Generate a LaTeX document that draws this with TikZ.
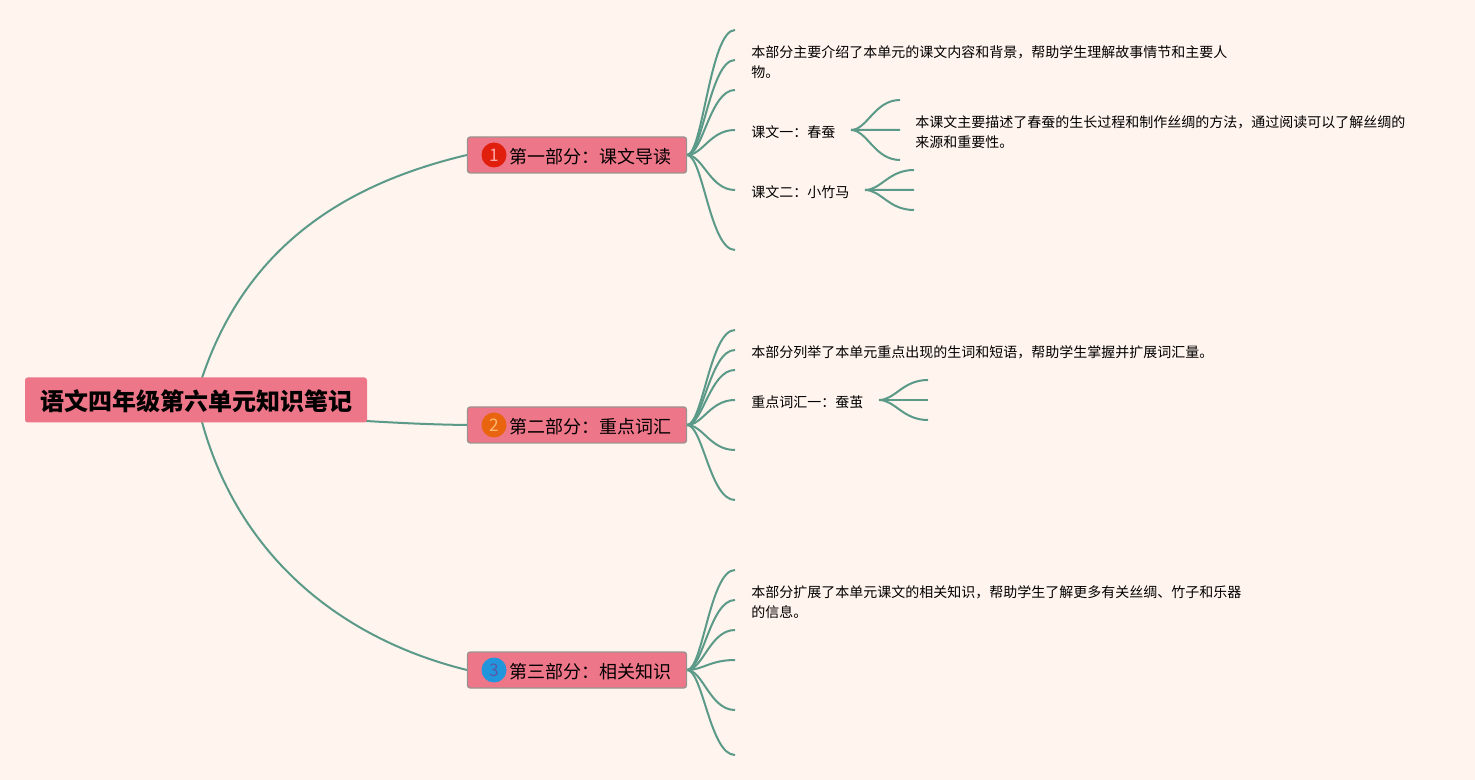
\documentclass[tikz,border=0pt]{standalone}
\usepackage{fontspec}
\setmainfont{Noto Sans CJK SC}
\definecolor{bgc}{HTML}{FFF4EE}
\definecolor{boxc}{HTML}{EE7689}
\definecolor{linec}{HTML}{5B9A88}
\definecolor{edgec}{HTML}{9A9490}
\definecolor{redc}{HTML}{E0200C}
\definecolor{orac}{HTML}{E8640E}
\definecolor{bluc}{HTML}{2196DC}
\tikzset{
 rootbox/.style={fill=boxc,rounded corners=2pt,minimum width=342\pxu,minimum height=45\pxu,inner sep=0pt,font=\fontsize{18}{22}\selectfont\bfseries},
 secbox/.style={fill=boxc,draw=edgec,line width=1pt,rounded corners=2pt,minimum width=219\pxu,minimum height=36\pxu,inner sep=0pt},
 sectext/.style={font=\fontsize{13.5}{16}\selectfont,inner sep=0pt,anchor=west},
 badge/.style={circle,minimum size=25\pxu,inner sep=0pt,font=\fontsize{13}{15}\selectfont},
 body/.style={font=\fontsize{10.5}{15}\selectfont,inner sep=0pt,anchor=north west,align=left},
 label/.style={font=\fontsize{10.5}{15}\selectfont,inner sep=0pt,anchor=west},
 conn/.style={draw=linec,line width=1.5pt}
}
\newcommand{\pxu}{*0.75pt}
\newcommand{\sbranch}[2]{\draw[conn] (#1) .. controls ($(#1)!0.33!(#2|-#1)$) and ($(#1|-#2)!0.48!(#2)$) .. (#2);}
\usetikzlibrary{calc}
\begin{document}
\begin{tikzpicture}[x=0.75pt,y=-0.75pt]
\fill[bgc] (0,0) rectangle (1475,780);
\useasboundingbox (0,0) rectangle (1475,780);
% end points
\foreach \n/\y in {a1/30,a2/60,a3/90,a4/130,a5/190,a6/250,b1/330,b2/350,b3/370,b4/400,b5/450,b6/500,c1/570,c2/600,c3/630,c4/660,c5/710,c6/755}
  \coordinate (\n) at (735,\y);
\foreach \n/\y in {p1/100,p2/130,p3/160} \coordinate (\n) at (900,\y);
\foreach \n/\y in {q1/170,q2/190,q3/210} \coordinate (\n) at (914,\y);
\foreach \n/\y in {r1/380,r2/400,r3/420} \coordinate (\n) at (928,\y);
\coordinate (ps) at (851,130);
\coordinate (qs) at (865,190);
\coordinate (rs) at (879,400);
% boxes
\coordinate (rt) at (202,378);
\coordinate (rb) at (202,422);
\coordinate (rr) at (366,421);
\coordinate (st) at (687,155);
\coordinate (sm) at (687,425);
\coordinate (sb) at (687,670);
\draw[conn] (rt) .. controls (245,250) and (340,185) .. (467,155);
\draw[conn] (rr) .. controls (400,423) and (430,424.5) .. (467,425);
\draw[conn] (rb) .. controls (240,560) and (345,640) .. (467,670);
\foreach \e in {a1,a2,a3,a4,a5,a6} {\sbranch{st}{\e}}
\foreach \e in {b1,b2,b3,b4,b5,b6} {\sbranch{sm}{\e}}
\foreach \e in {c1,c2,c3,c4,c5,c6} {\sbranch{sb}{\e}}
\foreach \e in {p1,p2,p3} {\sbranch{ps}{\e}}
\foreach \e in {q1,q2,q3} {\sbranch{qs}{\e}}
\foreach \e in {r1,r2,r3} {\sbranch{rs}{\e}}
\node[rootbox] (root) at (196,400) {};
\node[inner sep=0pt,font=\fontsize{18}{22}\selectfont\bfseries] (roottext) at (196.5,401.5) {语文四年级第六单元知识笔记};
\node[secbox] (s1) at (577,155) {};
\node[secbox] (s2) at (577,425) {};
\node[secbox] (s3) at (577,670) {};
\node[badge,fill=redc,text=red!35!white] (n1) at (494,155) {1};
\node[badge,fill=orac,text=orange!55!white] (n2) at (494,425) {2};
\node[badge,fill=bluc,text=gray!70!blue] (n3) at (494,670) {3};
\node[sectext] (t1) at (509,156.5) {第一部分：课文导读};
\node[sectext] (t2) at (509,426.5) {第二部分：重点词汇};
\node[sectext] (t3) at (509,671.5) {第三部分：相关知识};
\node[body] (d1) at (751,45) {本部分主要介绍了本单元的课文内容和背景，帮助学生理解故事情节和主要人\\物。};
\node[label] (l1) at (751,132) {课文一：春蚕};
\node[label] (l2) at (751,192) {课文二：小竹马};
\node[body] (d2) at (915,115) {本课文主要描述了春蚕的生长过程和制作丝绸的方法，通过阅读可以了解丝绸的\\来源和重要性。};
\node[label] (d3) at (751,352) {本部分列举了本单元重点出现的生词和短语，帮助学生掌握并扩展词汇量。};
\node[label] (l3) at (751,402) {重点词汇一：蚕茧};
\node[body] (d4) at (751,585) {本部分扩展了本单元课文的相关知识，帮助学生了解更多有关丝绸、竹子和乐器\\的信息。};
\end{tikzpicture}
\end{document}
